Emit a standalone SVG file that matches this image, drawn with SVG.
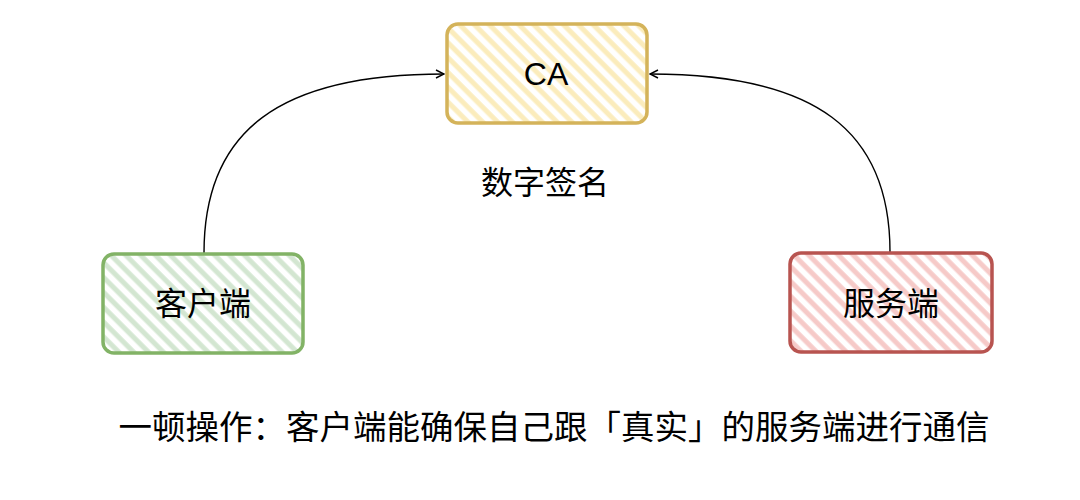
<svg xmlns="http://www.w3.org/2000/svg" width="1080" height="500" viewBox="0 0 1080 500">
<style>
.box{stroke-width:3.5;stroke-linejoin:round}
.lbl{font-family:"Liberation Sans","Noto Sans CJK SC",sans-serif;font-size:32px;fill:#000;text-anchor:middle}
.cjk{font-family:"Noto Sans CJK SC","Liberation Sans",sans-serif;fill:#000;text-anchor:middle;font-weight:normal}
.edge{fill:none;stroke:#000;stroke-width:1.4}
</style>
<defs>
<pattern id="hY" patternUnits="userSpaceOnUse" width="10.5" height="10.5" patternTransform="rotate(-45)">
<rect width="10.5" height="10.5" fill="#fff"/>
<line x1="3" y1="0" x2="3" y2="10.5" stroke="#fbecbc" stroke-width="5"/>
</pattern>
<pattern id="hG" patternUnits="userSpaceOnUse" width="10.5" height="10.5" patternTransform="rotate(-45)">
<rect width="10.5" height="10.5" fill="#fff"/>
<line x1="3" y1="0" x2="3" y2="10.5" stroke="#d3e6d1" stroke-width="5"/>
</pattern>
<pattern id="hR" patternUnits="userSpaceOnUse" width="10.5" height="10.5" patternTransform="rotate(-45)">
<rect width="10.5" height="10.5" fill="#fff"/>
<line x1="3" y1="0" x2="3" y2="10.5" stroke="#f6cac8" stroke-width="5"/>
</pattern>
<marker id="arr" viewBox="0 0 10 10" refX="9" refY="5" markerWidth="10" markerHeight="10" markerUnits="userSpaceOnUse" orient="auto">
<path d="M1,1 L9,5 L1,9" fill="none" stroke="#000" stroke-width="1.4"/>
</marker>
</defs>
<rect width="1080" height="500" fill="#fff"/>
<g id="connectors">
<path class="edge" d="M204,253 C204,130 280,74 444,74" marker-end="url(#arr)"/>
<path class="edge" d="M890,252 C890,130 815,74 650,74" marker-end="url(#arr)"/>
</g>
<g id="node-ca">
<rect class="box" x="447" y="24" width="200" height="99" rx="11" fill="url(#hY)" stroke="#d4b35a"/>
<text class="lbl" x="546" y="85" font-size="31">CA</text>
</g>
<g id="node-client">
<rect class="box" x="103" y="254" width="200" height="99" rx="11" fill="url(#hG)" stroke="#82b366"/>
<text class="cjk" x="203" y="315" font-size="32">客户端</text>
</g>
<g id="node-server">
<rect class="box" x="790" y="253" width="202" height="99" rx="11" fill="url(#hR)" stroke="#b85450"/>
<text class="cjk" x="891" y="315" font-size="32">服务端</text>
</g>
<g id="label-sign">
<text class="cjk" x="545" y="194" font-size="32">数字签名</text>
</g>
<g id="caption">
<text class="cjk" x="554" y="439" font-size="33.5">一顿操作：客户端能确保自己跟「真实」的服务端进行通信</text>
</g>
</svg>
